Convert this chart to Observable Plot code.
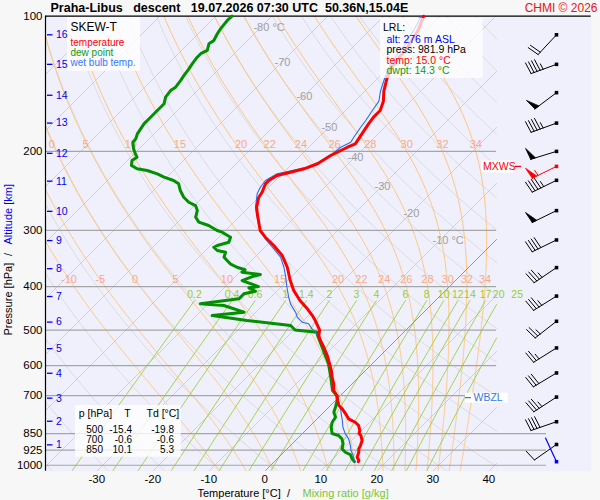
<!DOCTYPE html>
<html><head><meta charset="utf-8">
<script src="https://cdn.jsdelivr.net/npm/d3@7"></script>
<script src="https://cdn.jsdelivr.net/npm/@observablehq/plot@0.6"></script>
<style>
body{margin:0;background:#f7f7f7;}
#chart svg{font-family:"Liberation Sans",Arial,Helvetica,sans-serif;overflow:visible;}
</style></head>
<body><div id="chart"></div>
<script>
// ---------------- DATA ----------------
const temperature = [[100,-52.9],[104.3,-52.0],[107.1,-51.4],[117.6,-50.2],[123.8,-49.9],[131.4,-49.3],[137.2,-48.4],[142,-47.5],[146.9,-46.6],[154.6,-44.9],[162.2,-43.8],[167.8,-43.8],[173.7,-43.5],[182.8,-42.9],[192.4,-42.3],[195.8,-43.1],[200.9,-44.0],[204.3,-44.6],[213.1,-45.5],[218.7,-47.0],[222.6,-48.8],[226.4,-50.6],[232.2,-51.2],[236.2,-51.2],[246.6,-50.3],[253,-50.0],[266.3,-48.6],[275.5,-47.3],[300.1,-43.8],[310.6,-41.7],[324.1,-38.7],[341.2,-35.4],[362.3,-32.4],[387.9,-29.5],[408.2,-27.1],[429.7,-24.2],[448.4,-21.4],[464.1,-19.3],[476.1,-17.9],[500,-15.4],[514.2,-14.6],[527.6,-13.4],[546,-11.6],[569.7,-9.5],[594.5,-7.6],[615.3,-6.1],[636.8,-4.75],[658.8,-3.3],[681.8,-2.1],[700,-0.6],[717.6,0.4],[736.3,1.5],[748.9,2.7],[768.3,4.2],[788.2,5.6],[802.1,7.4],[815.8,8.6],[837,9.7],[850,10.1],[858.7,10.8],[881,11.9],[903.9,12.5],[919.3,12.8],[935.5,13.4],[959.8,14.0],[976.2,14.9],[981.9,15.0]];
const dewPoint = [[100,-87.1],[102.2,-87.2],[106.7,-86.9],[109.4,-86.6],[113.3,-86.0],[115.2,-86.3],[119.2,-85.4],[121.2,-86.0],[123.4,-86.0],[127.7,-85.7],[131,-85.4],[135.6,-85.1],[139.1,-84.8],[143.9,-84.5],[146.4,-84.8],[151.5,-84.5],[156.7,-83.6],[159.5,-83.6],[164.9,-83.6],[169.2,-83.6],[173.7,-83.6],[178.2,-83.3],[182.8,-83.0],[187.5,-82.4],[190.8,-82.3],[197.4,-81.0],[202.5,-79.8],[206,-78.9],[209.6,-79.2],[215,-78.4],[218.7,-76.8],[220.6,-74.7],[224.4,-72.3],[228.3,-70.5],[232.2,-68.2],[236.2,-66.7],[244.5,-65.2],[253,-63.4],[259.6,-61.6],[264.1,-59.8],[270.8,-58.6],[280.3,-57.7],[287.5,-56.25],[292.5,-53.9],[300.1,-51.5],[302.7,-50.3],[310.6,-47.9],[318.7,-47.3],[324.1,-48.8],[327,-49.1],[332.5,-47.9],[335.5,-46.1],[344.1,-45.5],[356,-43.2],[362.3,-41.4],[367,-39.5],[371.7,-39.6],[376.1,-35.9],[380,-37.0],[387.9,-38.1],[400,-34.1],[402.6,-35.6],[409.7,-33.8],[415.2,-35.4],[426,-35.4],[437.1,-41.4],[440.9,-36.9],[456.2,-32.1],[464.1,-37.2],[476.1,-30.1],[488.5,-21.4],[500,-19.8],[505.6,-15.5],[514.2,-14.8],[546,-11.9],[594.5,-7.8],[636.8,-5.0],[681.8,-2.3],[700,-0.6],[717.6,0.3],[742.7,1.2],[762,1.8],[781.8,3.0],[802.1,3.3],[822.9,4.0],[850,5.3],[858.7,6.8],[873.4,8.0],[896.1,9.1],[919.3,9.8],[935.5,11.0],[946.6,12.3],[967.7,13.4],[981.9,14.3]];
const wetBulb = [[100,-53.4],[104.3,-52.6],[115.6,-51.1],[121.7,-50.8],[132.6,-49.6],[139.6,-48.4],[146.9,-47.2],[154.6,-45.7],[162.2,-45.2],[170.7,-44.6],[176.7,-44.3],[186,-43.75],[190.8,-43.4],[195.8,-44.3],[202.5,-44.6],[211.4,-45.5],[217.1,-46.7],[224.4,-50.9],[232.2,-51.8],[240.4,-51.5],[248.6,-50.9],[266.3,-48.8],[295.1,-44.6],[313.1,-41.4],[329.7,-38.1],[344.1,-35.4],[362.3,-33.0],[381.3,-30.9],[401.4,-28.9],[422.5,-26.8],[437.1,-25.3],[456.2,-22.9],[468.2,-21.7],[480.3,-19.9],[484.2,-18.5],[496.8,-17.0],[505.6,-15.8],[514.2,-14.7],[546,-11.7],[594.5,-7.7],[636.8,-4.9],[681.8,-2.2],[700,-0.6],[717.6,0.4],[748.9,2.4],[768.3,3.4],[795.1,4.8],[822.9,6.1],[851.3,7.7],[873.4,9.2],[903.9,10.7],[927.4,11.7],[951.5,13.0],[976,14.1],[981.9,14.5]];

const pressureLevels = [100,200,300,400,500,600,700,850,925,1000];
const tempTicks = [-30,-20,-10,0,10,20,30,40];
const altKm = [1,2,3,4,5,6,7,8,9,10,11,12,13,14,15,16];
const altP = [900.7,798,709,624,550,480,421,365,316,272,233,202,173,150,128,110];
const isoLabelT = [-80,-70,-60,-50,-40,-30,-20,-10];
const isoLabelP = [106,126.8,151,177,206.4,239.5,275.1,315.9];
const moistThetaW = [-10,-5,0,5,10,15,20,22,24,26,28,30,32,34];
const moistLabels200 = [0,5,10,15,20,22,24,26,28,30,32,34];
const mixRatios = [0.2,0.4,0.6,1,1.4,2,3,4,6,8,10,12,14,17,20,25];
const mixTopP = 430;

const windP   = [110,128,148,173,200,232,271,315,363,420,478,548,623,705,800,899];
const windDir = [223,250,233,250,253,244,244,244,236,238,232,238,239,237,251,235];
const windSpd = [20,45,50,45,50,45,50,40,35,35,25,25,30,35,40,10];
const maxWindP = 216, maxWindDir = 244, maxWindSpd = 55;
const sfcP = 981.9, sfcDir = 335;

const tableP = [500,700,850];
const tableT = [-15.4,-0.6,10.1];
const tableTd = [-19.8,-0.6,5.3];
const lrlAlt = 276, lrlPress = 981.9, lrlTemp = 15.0, lrlDwpt = 14.3;
const wbzlP = 707;

// ---------------- GEOMETRY ----------------
const W = 600, H = 500;
const mL = 45, mR = 9.3, mT = 15.7, mB = 29.3;
const pTop = 100, pBot = 1031;
const pxPerDeg = 5.6, zeroPx = 264.3;
const pxPerLn = (H - mT - mB) / Math.log(pBot / pTop);
const K = pxPerLn / pxPerDeg;
const Xleft = (mL - zeroPx) / pxPerDeg, Xright = (W - mR - zeroPx) / pxPerDeg;
const Xclip = (496 - zeroPx) / pxPerDeg;
const skewX = (t, p) => t + K * Math.log(pBot / p);
const px2X = px => (px - zeroPx) / pxPerDeg;
const p2py = p => H - mB - pxPerLn * Math.log(pBot / p);
const py2p = py => pBot * Math.exp(-(H - mB - py) / pxPerLn);

// ---------------- THERMO ----------------
const esat = t => 6.112 * Math.exp(17.67 * t / (t + 243.5));
function dTdp(p, t) {
  const T = t + 273.15, es = esat(t), rs = 0.622 * es / (p - es);
  const Rd = 287.04, Cp = 1005.7, Lv = 2.501e6, eps = 0.622;
  return (Rd * T + Lv * rs) / (p * (Cp + Lv * Lv * rs * eps / (Rd * T * T)));
}
function integrate(t0, p0, p1, step) {
  const out = [{p: p0, t: t0}];
  let p = p0, t = t0;
  const dir = Math.sign(p1 - p0);
  while ((p1 - p) * dir > 1e-9) {
    const h = dir * Math.min(step, Math.abs(p1 - p));
    const k1 = dTdp(p, t), k2 = dTdp(p + h/2, t + h/2*k1), k3 = dTdp(p + h/2, t + h/2*k2), k4 = dTdp(p + h, t + h*k3);
    t += h/6*(k1 + 2*k2 + 2*k3 + k4); p += h;
    out.push({p, t});
  }
  return out;
}
function moistProfile(tw) {
  const up = integrate(tw, 1000, pTop, 2);
  const down = integrate(tw, 1000, pBot, 2).slice(1).reverse();
  return down.concat(up);
}
function clipRight(pts, Xmax) {
  const segs = []; let cur = [];
  for (let i = 0; i < pts.length; i++) {
    const a = pts[i], inA = a.X <= Xmax;
    if (i > 0) {
      const b = pts[i-1], inB = b.X <= Xmax;
      if (inA !== inB) {
        const f = (Xmax - b.X) / (a.X - b.X);
        const lp = Math.log(b.p) + f * (Math.log(a.p) - Math.log(b.p));
        cur.push({X: Xmax, p: Math.exp(lp)});
        if (!inA) { if (cur.length > 1) segs.push(cur); cur = []; }
      }
    }
    if (inA) cur.push(a);
  }
  if (cur.length > 1) segs.push(cur);
  return segs;
}
let segId = 0;
function addLines(target, pts) {
  for (const s of clipRight(pts, Xclip)) { const id = segId++; for (const q of s) target.push({x: q.X, y: q.p, z: id}); }
}
const logSamples = n => d3.range(n + 1).map(i => pBot * Math.pow(pTop / pBot, i / n));

// isotherms
const isoLines = [], zeroIso = [];
for (let t = -120; t <= 40; t += 10) {
  const pts = [pBot, pTop].map(p => ({X: skewX(t, p), p}));
  addLines(t === 0 ? zeroIso : isoLines, pts);
}
// dry adiabats
const dryLines = [];
for (let th = -40; th <= 170; th += 10) {
  const pts = logSamples(60).map(p => ({X: skewX((th + 273.15) * Math.pow(p / 1000, 0.2857) - 273.15, p), p}));
  addLines(dryLines, pts);
}
// moist adiabats
const moistLines = [], moistProfiles = {};
for (const tw of moistThetaW) {
  const prof = moistProfile(tw);
  moistProfiles[tw] = prof;
  addLines(moistLines, prof.map(d => ({X: skewX(d.t, d.p), p: d.p})));
}
const tAt = (prof, p) => prof.reduce((a, b) => Math.abs(b.p - p) < Math.abs(a.p - p) ? b : a).t;
// cold labels sit slightly left of the computed curve, as in the reference
const labShift = tw => tw <= 5 ? -0.9 : 0;
const moistLab400 = moistThetaW.map(tw => ({tw, p: 400, X: skewX(tAt(moistProfiles[tw], 400), 400) + labShift(tw)}));
const moistLab200 = moistLabels200.map(tw => ({tw, p: 200, X: skewX(tAt(moistProfiles[tw], 200), 200) + labShift(tw)}));
// mixing ratio lines
const tdFromW = (w, p) => { const e = (w/1000) * p / (0.622 + w/1000); const l = Math.log(e / 6.112); return 243.5 * l / (17.67 - l); };
const mixLines = [];
for (const w of mixRatios) {
  const pts = d3.range(21).map(i => pBot * Math.pow(mixTopP / pBot, i / 20)).map(p => ({X: skewX(tdFromW(w, p), p), p}));
  addLines(mixLines, pts);
}
const mixLab = mixRatios.map(w => ({w, X: skewX(tdFromW(w, mixTopP), mixTopP), p: mixTopP}));

// ---------------- WIND BARBS ----------------
const barbPx = 556, staffLen = 27, barbLen = 12, barbGap = 3.2;
function barb(p, dir, spd, color, out) {
  const ox = barbPx, oy = p2py(p), r = dir * Math.PI / 180;
  const ux = Math.sin(r), uy = -Math.cos(r);
  const tx = ox + staffLen * ux, ty = oy + staffLen * uy;
  const a = 8 * Math.PI / 180;
  const bx = -uy * Math.cos(a) + ux * Math.sin(a), by = ux * Math.cos(a) + uy * Math.sin(a);
  const P = s => [tx - ux * s, ty - uy * s];
  const line = (pts) => { const id = segId++; pts.forEach(q => out.lines.push({x: px2X(q[0]), y: py2p(q[1]), z: id})); };
  const poly = (pts) => { const id = segId++; pts.forEach(q => out.polys.push({x: px2X(q[0]), y: py2p(q[1]), z: id})); };
  line([[ox, oy], [tx, ty]]);
  let rem = Math.round(spd / 5) * 5, s = 0;
  while (rem >= 50) { const a0 = P(s), a1 = P(s + 5); poly([a0, [a0[0] + bx*barbLen, a0[1] + by*barbLen], a1, a0]); s += 6.5; rem -= 50; }
  while (rem >= 10) { const a0 = P(s); line([a0, [a0[0] + bx*barbLen, a0[1] + by*barbLen]]); s += barbGap; rem -= 10; }
  if (rem >= 5) { if (s === 0) s = barbGap; const a0 = P(s); line([a0, [a0[0] + bx*barbLen/2, a0[1] + by*barbLen/2]]); }
}
const blk = {lines: [], polys: []}, red = {lines: [], polys: []};
windP.forEach((p, i) => barb(p, windDir[i], windSpd[i], "black", blk));
barb(maxWindP, maxWindDir, maxWindSpd, "red", red);
const sfcLine = [];
{ const oy = p2py(sfcP), r = sfcDir * Math.PI/180; sfcLine.push({x: px2X(barbPx), y: sfcP}, {x: px2X(barbPx + 26*Math.sin(r)), y: py2p(oy - 26*Math.cos(r))}); }

// ---------------- HELPERS ----------------
const lab = (txt, px, py, o = {}) => Plot.text([txt], {x: () => px2X(px), y: () => py2p(py), text: d => d, textAnchor: "start", lineAnchor: "middle", fontSize: 10, fill: "black", ...o});
const box = (x1, x2, y1, y2, o = {}) => Plot.rect([0], {x1: () => px2X(x1), x2: () => px2X(x2), y1: () => py2p(y2), y2: () => py2p(y1), fill: "white", fillOpacity: 0.8, ...o});
const prof = arr => arr.map(([p, t]) => ({p, t}));
const sp = "\u00a0";

const chart = Plot.plot({
  width: W, height: H, marginLeft: mL, marginRight: mR, marginTop: mT, marginBottom: mB,
  x: {type: "linear", domain: [Xleft, Xright], axis: null},
  y: {type: "log", domain: [pBot, pTop], axis: null},
  style: {background: "transparent", fontFamily: "Liberation Sans, Arial, sans-serif"},
  marks: [
    Plot.frame({fill: "#f0f0fc", stroke: "none"}),
    Plot.line(dryLines, {x: "x", y: "y", z: "z", stroke: "#d9d9d9", strokeWidth: 0.9, clip: true}),
    Plot.line(isoLines, {x: "x", y: "y", z: "z", stroke: "#cdcdcd", strokeWidth: 0.9, clip: true}),
    Plot.line(moistLines, {x: "x", y: "y", z: "z", stroke: "#ffc47a", strokeWidth: 1, clip: true}),
    Plot.line(mixLines, {x: "x", y: "y", z: "z", stroke: "#9ccf3a", strokeWidth: 0.9, clip: true}),
    Plot.line(zeroIso, {x: "x", y: "y", z: "z", stroke: "#808080", strokeWidth: 0.8, clip: true}),
    Plot.ruleY(pressureLevels.filter(p => p > pTop && p < 850), {x1: Xleft, x2: Xclip, stroke: "#a6a6a6", strokeWidth: 1.2}),
    Plot.ruleY(pressureLevels.filter(p => p >= 850), {x1: Xleft, x2: px2X(546), stroke: "#a6a6a6", strokeWidth: 1.2}),
    Plot.ruleY([pTop], {x1: Xleft, x2: Xright, stroke: "black", strokeWidth: 1.2}),
    Plot.ruleX([Xleft], {y1: pBot, y2: pTop, stroke: "black", strokeWidth: 1.2}),
    // line labels
    Plot.text(moistLab400, {x: "X", y: "p", text: d => String(d.tw), dy: -7, fill: "#f8a98a", fontSize: 11}),
    Plot.text(moistLab200, {x: "X", y: "p", text: d => String(d.tw), dy: -7, fill: "#f8a98a", fontSize: 11}),
    Plot.text(mixLab, {x: "X", y: "p", text: d => String(d.w), dy: -6, fill: "#99cc33", fontSize: 10.5}),
    Plot.text(isoLabelT.map((t, i) => ({t, p: isoLabelP[i]})), {x: d => skewX(d.t, d.p), y: "p", text: d => (d.t === -80 || d.t === -10) ? `${d.t} °C` : String(d.t), textAnchor: "start", dx: -7, fill: "#a0a0a0", fontSize: 11}),
    // profiles
    Plot.line(prof(dewPoint), {x: d => skewX(d.t, d.p), y: "p", stroke: "#009000", strokeWidth: 3, strokeLinejoin: "round"}),
    Plot.line(prof(wetBulb), {x: d => skewX(d.t, d.p), y: "p", stroke: "#2a6cf0", strokeWidth: 1.1}),
    Plot.line(prof(temperature), {x: d => skewX(d.t, d.p), y: "p", stroke: "#ff0000", strokeWidth: 3, strokeLinejoin: "round"}),
    // boxes
    box(67, 140, 17, 70.7),
    box(380, 482.7, 18, 78, {fillOpacity: 0.75}),
    box(75, 180.7, 405, 456.7),
    Plot.ruleY([wbzlP], {x1: px2X(465), x2: px2X(507.7), stroke: "white", strokeWidth: 10}),
    Plot.ruleY([wbzlP], {x1: px2X(465), x2: px2X(471), stroke: "#3377ee", strokeWidth: 1.2}),
    Plot.text([wbzlP], {x: px2X(473), y: d => d, text: () => "WBZL", textAnchor: "start", fill: "#3377ee", fontSize: 10.5}),
    Plot.ruleY([maxWindP], {x1: px2X(481), x2: px2X(513), stroke: "white", strokeWidth: 12}),
    Plot.ruleY([maxWindP], {x1: px2X(515), x2: px2X(521), stroke: "red", strokeWidth: 1.2}),
    Plot.text([maxWindP], {x: px2X(482.5), y: d => d, text: () => "MXWS", textAnchor: "start", fill: "red", fontSize: 10.5}),
    // wind barbs
    Plot.line(blk.lines, {x: "x", y: "y", z: "z", stroke: "black", strokeWidth: 1}),
    Plot.line(blk.polys, {x: "x", y: "y", z: "z", stroke: "black", fill: "black", strokeWidth: 0.8}),
    Plot.dot(windP, {x: px2X(barbPx), y: d => d, symbol: "square", r: 2, fill: "black"}),
    Plot.line(red.lines, {x: "x", y: "y", z: "z", stroke: "red", strokeWidth: 1}),
    Plot.line(red.polys, {x: "x", y: "y", z: "z", stroke: "red", fill: "red", strokeWidth: 0.8}),
    Plot.dot([maxWindP], {x: px2X(barbPx), y: d => d, symbol: "square", r: 2, fill: "red"}),
    Plot.line(sfcLine, {x: "x", y: "y", stroke: "blue", strokeWidth: 1.2}),
    Plot.dot([sfcP], {x: px2X(barbPx), y: d => d, symbol: "square", r: 2, fill: "blue"}),
    // axes
    Plot.text(pressureLevels, {x: Xleft, y: d => d, text: d => String(d), textAnchor: "end", dx: -3, fontSize: 11.5, fill: "black"}),
    Plot.ruleY(altP, {x1: px2X(47), x2: px2X(52.5), stroke: "#0000ee", strokeWidth: 1.3}),
    Plot.text(altKm, {x: px2X(55.5), y: (d, i) => altP[i], text: d => String(d), textAnchor: "start", fontSize: 10.5, fill: "#0000ee"}),
    Plot.text(tempTicks, {x: d => d, y: pBot, text: d => String(d), dy: 8, fontSize: 11.5, fill: "black"}),
    // titles
    lab(`Praha-Libus${sp}${sp}${sp}descent${sp}${sp}${sp}19.07.2026 07:30 UTC${sp}${sp}50.36N,15.04E`, 50, 7.5, {fontSize: 12.5, fontWeight: "bold"}),
    lab("CHMI © 2026", 597, 7.5, {textAnchor: "end", fontSize: 12, fill: "#ee1111"}),
    lab("Temperature [°C]", 197, 493, {fontSize: 11}),
    lab("/", 288, 493, {fontSize: 11, textAnchor: "middle"}),
    lab("Mixing ratio [g/kg]", 302, 493, {fontSize: 11, fill: "#77c733"}),
    lab("Pressure [hPa]", 8, 335, {fontSize: 11, rotate: -90}),
    lab("/", 8, 254, {fontSize: 11, rotate: -90, textAnchor: "middle"}),
    lab("Altitude [km]", 8, 244, {fontSize: 11, rotate: -90, fill: "#0000ee"}),
    // legend
    lab("SKEW-T", 70, 27, {fontSize: 12}),
    lab("temperature", 70, 42, {fill: "red"}),
    lab("dew point", 70, 52, {fill: "#119911"}),
    lab("wet bulb temp.", 70, 62, {fill: "#3377ff"}),
    // LRL
    lab("LRL:", 382.5, 27.5, {fontSize: 10.5}),
    lab(`alt: ${lrlAlt} m ASL`, 386, 39, {fontSize: 10.5, fill: "#0000ee"}),
    lab(`press: ${lrlPress.toFixed(1)} hPa`, 386, 49.5, {fontSize: 10.5}),
    lab(`temp: ${lrlTemp.toFixed(1)} °C`, 386, 60, {fontSize: 10.5, fill: "red"}),
    lab(`dwpt: ${lrlDwpt.toFixed(1)} °C`, 386, 70.5, {fontSize: 10.5, fill: "#119911"}),
    // table
    lab("p [hPa]", 78.3, 413.5, {fontSize: 10.5}),
    lab("T", 127, 413.5, {fontSize: 10.5, textAnchor: "middle"}),
    lab("Td [°C]", 146, 413.5, {fontSize: 10.5}),
    Plot.text(tableP, {x: () => px2X(102.5), y: (d, i) => py2p(429.3 + i * 9.85), text: d => String(d), textAnchor: "end", fontSize: 10, fill: "black"}),
    Plot.text(tableT, {x: () => px2X(131.5), y: (d, i) => py2p(429.3 + i * 9.85), text: d => d.toFixed(1), textAnchor: "end", fontSize: 10, fill: "black"}),
    Plot.text(tableTd, {x: () => px2X(173.5), y: (d, i) => py2p(429.3 + i * 9.85), text: d => d.toFixed(1), textAnchor: "end", fontSize: 10, fill: "black"})
  ]
});
document.getElementById("chart").append(chart);
</script>
</body></html>
